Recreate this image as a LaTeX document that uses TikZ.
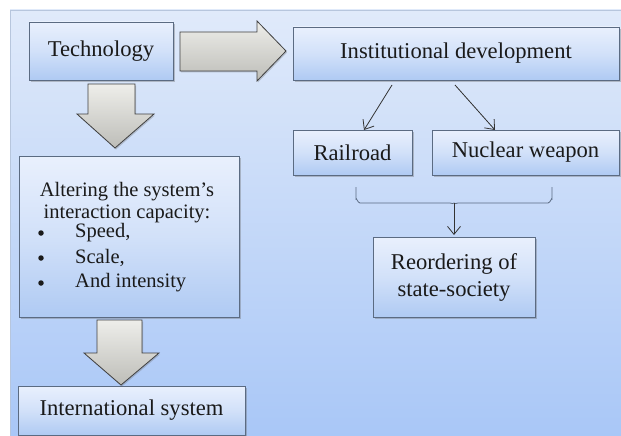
\documentclass[tikz,border=0pt]{standalone}
\usepackage{fontspec}
\setmainfont{Liberation Serif}
\newfontfamily\boxface{Liberation Serif}
\usetikzlibrary{arrows.meta,shadows,calc}
\definecolor{panelTop}{HTML}{E0EAFA}
\definecolor{panelBot}{HTML}{A9C7F7}
\definecolor{boxTop}{HTML}{E9F0FD}
\definecolor{boxBot}{HTML}{AFCAF3}
\definecolor{boxLine}{HTML}{5B6B82}
\definecolor{ink}{HTML}{1A1A1A}
\definecolor{arrTop}{HTML}{EEEEEA}
\definecolor{arrBot}{HTML}{BDBDB8}
\tikzset{
  flowbox/.style={draw=boxLine, line width=0.8pt, top color=boxTop, bottom color=boxBot,
    middle color=boxTop!60!boxBot, inner sep=0pt, font=\boxface\fontsize{22.6}{25}\selectfont, text=ink,
    drop shadow={shadow xshift=1.5pt, shadow yshift=-2pt, opacity=0.35, fill=black!60}},
  label/.style={inner sep=0pt, font=\boxface\fontsize{20.5}{23}\selectfont, text=ink},
  dot/.style={circle, fill=ink, inner sep=0pt, minimum size=5.5pt},
  blockarrow/.style={draw=black!75, line width=0.8pt, top color=arrTop, bottom color=arrBot,
    drop shadow={shadow xshift=1pt, shadow yshift=-1.5pt, opacity=0.3, fill=black!60}},
  thin arrow/.style={draw=black!80, line width=0.8pt, -{Straight Barb[length=8pt,width=13pt]}},
}
\begin{document}
\begin{tikzpicture}[x=1pt,y=-1pt]
  \useasboundingbox (0,0) rectangle (621,436);
  \fill[white] (0,0) rectangle (621,436);
  % backdrop panel
  \shade[top color=panelTop, bottom color=panelBot] (10,10) rectangle (621,436);
  \draw[draw=panelBot!80!black!60, line width=0.6pt] (10,436) -- (10,10) -- (621,10);

  % boxes
  \node[flowbox, minimum width=144pt, minimum height=58pt] (tech) at (101,51) {Technology};
  \node[flowbox, minimum width=326pt, minimum height=53pt] (inst) at (456,53.5) {Institutional development};
  \node[flowbox, minimum width=119pt, minimum height=45pt] (rail) at (352.5,152.5) {Railroad};
  \node[flowbox, minimum width=187pt, minimum height=45pt] (nuke) at (525.5,152.5) {Nuclear weapon};
  \node[flowbox, minimum width=162pt, minimum height=80pt, align=center] (reord) at (454,277)
    {Reordering of\\[2pt]state-society};
  \node[flowbox, minimum width=220pt, minimum height=161pt] (alter) at (129,236.5) {};
  \node[flowbox, minimum width=227pt, minimum height=49pt] (intl) at (131.5,410.5) {International system};

  % text of the capacity box
  \node[label] (alt1) at (127,192) {Altering the system’s};
  \node[label] (alt2) at (127,214) {interaction capacity:};
  \node[dot] (b1) at (41,233) {};
  \node[dot] (b2) at (41,258) {};
  \node[dot] (b3) at (41,283) {};
  \node[label, anchor=west] (speed) at (75,233) {Speed,};
  \node[label, anchor=west] (scale) at (75,258) {Scale,};
  \node[label, anchor=west] (inten) at (75,283) {And intensity};

  % block arrows
  \path[blockarrow] (180,32) -- (257,32) -- (257,21) -- (286,51) -- (257,81) -- (257,71) -- (180,71) -- cycle;
  \path[blockarrow] (88,84) -- (135,84) -- (135,114) -- (154,114) -- (115,148) -- (77,114) -- (88,114) -- cycle;
  \path[blockarrow] (97,320) -- (142,320) -- (142,353) -- (159,353) -- (121,385) -- (84,353) -- (97,353) -- cycle;

  % thin arrows
  \coordinate (i1) at (392,85);
  \coordinate (i2) at (455,85);
  \coordinate (r1) at (364,130);
  \coordinate (n1) at (495,130);
  \draw[thin arrow] (i1) -- (r1);
  \draw[thin arrow] (i2) -- (n1);

  % brace gathering both examples
  \coordinate (bl) at (356,187);
  \coordinate (br) at (552,187);
  \coordinate (bm) at (454,203);
  \coordinate (bt) at (454,235);
  \draw[draw=boxLine, line width=0.8pt]
    (bl) -- (356,199) to[out=90,in=180] (360,203) -- (450,203) to[out=0,in=-90] (bm)
    to[out=-90,in=180] (458,203) -- (548,203) to[out=0,in=90] (552,199) -- (br);
  \draw[thin arrow] (bm) -- (bt);
\end{tikzpicture}
\end{document}
